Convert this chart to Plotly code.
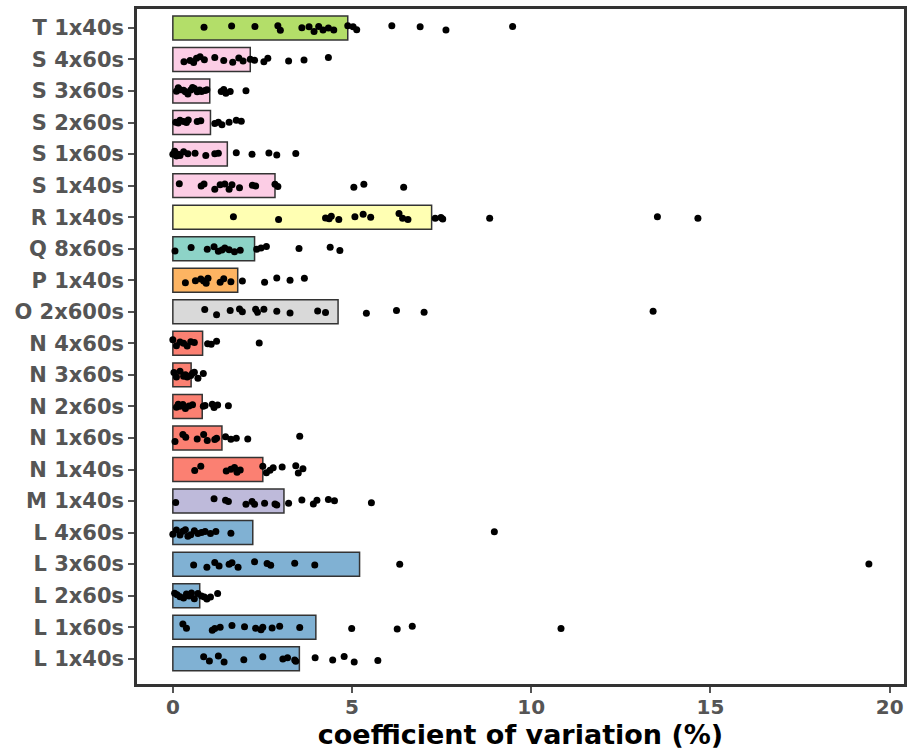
import plotly.graph_objects as go

categories = ["L 1x40s", "L 1x60s", "L 2x60s", "L 3x60s", "L 4x60s", "M 1x40s",
              "N 1x40s", "N 1x60s", "N 2x60s", "N 3x60s", "N 4x60s", "O 2x600s",
              "P 1x40s", "Q 8x60s", "R 1x40s", "S 1x40s", "S 1x60s", "S 2x60s",
              "S 3x60s", "S 4x60s", "T 1x40s"]

bar_values = [3.53, 3.99, 0.75, 5.21, 2.23, 3.10,
              2.51, 1.37, 0.82, 0.51, 0.83, 4.61,
              1.81, 2.28, 7.22, 2.85, 1.52, 1.05,
              1.03, 2.16, 4.88]

bar_colors = ["#80b1d3", "#80b1d3", "#80b1d3", "#80b1d3", "#80b1d3", "#bebada",
              "#fb8072", "#fb8072", "#fb8072", "#fb8072", "#fb8072", "#d9d9d9",
              "#fdb462", "#8dd3c7", "#ffffb3", "#fccde5", "#fccde5", "#fccde5",
              "#fccde5", "#fccde5", "#b3de69"]

points_L_1x40s = [0.86, 1.02, 1.27, 1.43, 1.98, 2.51, 3.07, 3.2, 3.4, 3.43, 3.97, 4.46, 4.78, 5.06, 5.72]
points_L_1x60s = [0.28, 0.38, 1.1, 1.17, 1.32, 1.65, 2.0, 2.31, 2.46, 2.51, 2.77, 2.98, 3.54, 4.99, 6.26, 6.68, 10.83]
points_L_2x60s = [0.05, 0.12, 0.2, 0.3, 0.38, 0.45, 0.52, 0.6, 0.7, 0.8, 0.88, 0.95, 1.05, 1.25]
points_L_3x60s = [0.58, 0.95, 1.17, 1.29, 1.57, 1.65, 1.82, 2.28, 2.63, 2.73, 3.4, 3.96, 6.33, 19.42]
points_L_4x60s = [0.0, 0.1, 0.2, 0.28, 0.35, 0.42, 0.5, 0.6, 0.7, 0.8, 0.9, 1.05, 1.2, 1.62, 8.97]
points_M_1x40s = [0.08, 1.15, 1.47, 1.55, 2.04, 2.21, 2.28, 2.56, 2.85, 2.9, 3.23, 3.6, 3.92, 4.02, 4.34, 4.51, 5.54]
points_N_1x40s = [0.61, 0.78, 1.49, 1.62, 1.72, 1.79, 1.88, 2.51, 2.61, 2.71, 2.8, 3.05, 3.43, 3.5, 3.63]
points_N_1x60s = [0.06, 0.28, 0.36, 0.68, 0.86, 0.96, 1.17, 1.22, 1.47, 1.62, 1.77, 2.09, 3.54]
points_N_2x60s = [0.1, 0.15, 0.2, 0.28, 0.35, 0.45, 0.55, 0.85, 0.9, 1.1, 1.15, 1.25, 1.55]
points_N_3x60s = [0.03, 0.1, 0.2, 0.3, 0.35, 0.4, 0.5, 0.55, 0.6, 0.7, 0.85]
points_N_4x60s = [0.0, 0.1, 0.2, 0.3, 0.4, 0.5, 0.6, 0.97, 1.07, 1.22, 2.41]
points_O_2x600s = [0.89, 1.22, 1.6, 1.86, 1.94, 2.31, 2.36, 2.54, 2.9, 3.27, 4.04, 4.26, 5.4, 6.24, 7.01, 13.4]
points_P_1x40s = [0.35, 0.63, 0.78, 0.86, 0.93, 0.98, 1.32, 1.42, 1.62, 1.94, 2.56, 2.9, 3.27, 3.67]
points_Q_8x60s = [0.06, 0.51, 0.96, 1.15, 1.27, 1.37, 1.45, 1.57, 1.72, 1.88, 2.34, 2.46, 2.61, 3.52, 4.39, 4.66]
points_R_1x40s = [1.69, 2.95, 4.26, 4.36, 4.42, 4.63, 5.08, 5.31, 5.52, 6.31, 6.41, 6.56, 7.32, 7.48, 7.53, 8.84, 13.52, 14.65]
points_S_1x40s = [0.18, 0.79, 0.87, 1.17, 1.32, 1.45, 1.57, 1.65, 1.86, 2.22, 2.31, 2.85, 2.93, 5.05, 5.33, 6.44]
points_S_1x60s = [0.0, 0.05, 0.1, 0.15, 0.2, 0.3, 0.42, 0.62, 0.92, 1.17, 1.27, 1.77, 2.21, 2.68, 2.9, 3.43]
points_S_2x60s = [0.08, 0.15, 0.2, 0.3, 0.38, 0.43, 0.68, 0.78, 1.17, 1.27, 1.37, 1.57, 1.77, 1.91]
points_S_3x60s = [0.1, 0.15, 0.2, 0.3, 0.35, 0.42, 0.5, 0.55, 0.6, 0.68, 0.75, 0.8, 0.9, 0.95, 1.35, 1.42, 1.48, 1.6, 2.04]
points_S_4x60s = [0.31, 0.48, 0.58, 0.66, 0.76, 0.88, 1.17, 1.42, 1.67, 1.84, 1.96, 2.16, 2.28, 2.54, 2.65, 3.23, 3.66, 4.34]
points_T_1x40s = [0.87, 1.64, 2.29, 2.93, 3.0, 3.6, 3.8, 3.94, 4.07, 4.19, 4.34, 4.49, 4.88, 5.03, 5.13, 6.11, 6.9, 7.62, 9.48]

all_points = [points_L_1x40s, points_L_1x60s, points_L_2x60s, points_L_3x60s, points_L_4x60s,
              points_M_1x40s, points_N_1x40s, points_N_1x60s, points_N_2x60s, points_N_3x60s,
              points_N_4x60s, points_O_2x600s, points_P_1x40s, points_Q_8x60s, points_R_1x40s,
              points_S_1x40s, points_S_1x60s, points_S_2x60s, points_S_3x60s, points_S_4x60s,
              points_T_1x40s]

x_ticks = [0, 5, 10, 15, 20]

px, py = [], []
for cat, pts in zip(categories, all_points):
    px.extend(pts)
    py.extend([cat] * len(pts))

fig = go.Figure()
fig.add_trace(go.Bar(
    y=categories, x=bar_values, orientation="h", width=0.76,
    marker=dict(color=bar_colors, line=dict(color="#333333", width=1.5)),
    showlegend=False, hoverinfo="x+y"))
fig.add_trace(go.Box(
    y=py, x=px, orientation="h", boxpoints="all", jitter=0.5, pointpos=0,
    width=0.5, fillcolor="rgba(0,0,0,0)", line=dict(color="rgba(0,0,0,0)", width=0),
    marker=dict(color="black", size=7), showlegend=False, hoveron="points"))

fig.update_layout(
    width=911, height=751, plot_bgcolor="white", paper_bgcolor="white",
    margin=dict(l=137, r=4, t=9, b=67), showlegend=False, boxmode="overlay",
)
fig.update_xaxes(
    range=[-1, 20.4], tickvals=x_ticks, ticktext=[str(t) for t in x_ticks],
    showgrid=False, zeroline=False, showline=True, mirror=True,
    linecolor="#333333", linewidth=2.5, ticks="outside", ticklen=6, tickwidth=1.5,
    tickcolor="#555555", ticklabelstandoff=-3,
    tickfont=dict(family="DejaVu Sans", size=20, color="#555555", weight="bold"),
    title=dict(text="coefficient of variation (%)", standoff=0,
               font=dict(family="DejaVu Sans", size=27, color="black", weight="bold")),
)
fig.update_yaxes(
    type="category", categoryorder="array", categoryarray=categories,
    range=[-0.8, 20.6],
    showgrid=False, zeroline=False, showline=True, mirror=True,
    linecolor="#333333", linewidth=2.5, ticks="outside", ticklen=6, tickwidth=1.5,
    tickcolor="#555555",
    tickfont=dict(family="DejaVu Sans", size=21, color="#555555", weight="bold"),
)

fig.write_html("out.html")
